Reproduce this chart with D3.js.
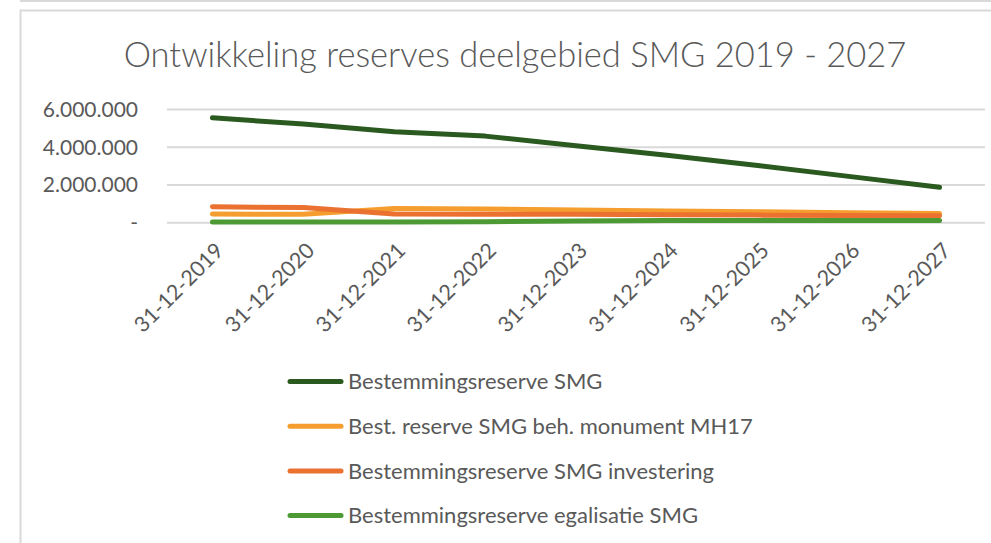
<!DOCTYPE html>
<html>
<head>
<meta charset="utf-8">
<script src="https://cdn.jsdelivr.net/npm/d3@7"></script>
<style>
body{margin:0;background:#fff;}
text{font-family:Lato,"Open Sans",sans-serif;fill:#595959;}
</style>
</head>
<body>
<svg id="chart"></svg>
<script>
var w=991;
var h=543;
var dates=["31-12-2019","31-12-2020","31-12-2021","31-12-2022","31-12-2023","31-12-2024","31-12-2025","31-12-2026","31-12-2027"];
var seriesNames=["Bestemmingsreserve SMG","Best. reserve SMG beh. monument MH17","Bestemmingsreserve SMG investering","Bestemmingsreserve egalisatie SMG"];
var smg=[5530000,5200000,4790000,4560000,4050000,3550000,3000000,2430000,1850000];
var mh17=[440000,420000,730000,700000,650000,600000,560000,510000,470000];
var investering=[820000,780000,440000,430000,420000,400000,380000,360000,350000];
var egalisatie=[20000,20000,20000,30000,70000,100000,100000,100000,100000];
var yTicks=[0,2000000,4000000,6000000];
var colors=["#2a5a1f","#f59d2e","#ea7130","#4d9a35"];

var margin={left:167,right:6,top:109,bottom:321};
var svg=d3.select("#chart").attr("width",w).attr("height",h);

// chart frame
svg.append("line").attr("x1",20).attr("x2",w).attr("y1",1).attr("y2",1)
   .attr("stroke","#d9d9d9").attr("stroke-width",2);
svg.append("path").attr("d","M20.5,"+h+"V10.5H"+w)
   .attr("fill","none").attr("stroke","#d9d9d9").attr("stroke-width",2);

svg.append("text")
   .attr("x",515).attr("y",67)
   .attr("text-anchor","middle")
   .style("font-size","34.5px")
   .style("font-weight","300")
   .text("Ontwikkeling reserves deelgebied SMG 2019 - 2027");

var xScale=d3.scalePoint()
             .domain(dates)
             .range([margin.left,w-margin.right])
             .padding(0.5);
var yScale=d3.scaleLinear()
             .domain([0,6000000])
             .range([222.3,108.9]);

var nl=d3.formatLocale({decimal:",",thousands:".",grouping:[3],currency:["€",""]});
var fmt=nl.format(",.0f");

var yAxis=d3.axisLeft(yScale)
            .tickValues(yTicks)
            .tickSize(-(w-margin.right-margin.left))
            .tickPadding(29)
            .tickFormat(function(d){return d==0?"-":fmt(d);});
var gy=svg.append("g")
   .attr("transform","translate("+margin.left+",0)")
   .call(yAxis);
gy.select(".domain").remove();
gy.selectAll(".tick line").attr("stroke","#d9d9d9").attr("stroke-width",2);
gy.selectAll(".tick text").style("font-size","21px").attr("fill","#595959").attr("dy","0.35em");

var xAxis=d3.axisBottom(xScale).tickSize(0).tickPadding(0);
var gx=svg.append("g")
   .attr("transform","translate(0,232)")
   .call(xAxis);
gx.select(".domain").remove();
gx.selectAll(".tick text")
  .style("font-size","21.5px")
  .attr("fill","#595959")
  .attr("text-anchor","end")
  .attr("dy","0")
  .attr("transform","translate(12,20) rotate(-45)");

var allSeries=[smg,mh17,investering,egalisatie];
var line=d3.line()
           .x(function(d,i){return xScale(dates[i]);})
           .y(function(d){return yScale(d);});
svg.append("g")
   .selectAll("path")
   .data(allSeries)
   .enter()
   .append("path")
   .attr("d",line)
   .attr("fill","none")
   .attr("stroke",function(d,i){return colors[i];})
   .attr("stroke-width",5)
   .attr("stroke-linecap","round")
   .attr("stroke-linejoin","round");

// legend
var legend=svg.append("g");
legend.selectAll("line")
   .data(seriesNames)
   .enter()
   .append("line")
   .attr("x1",290).attr("x2",341)
   .attr("y1",function(d,i){return 381.5+i*44.7;})
   .attr("y2",function(d,i){return 381.5+i*44.7;})
   .attr("stroke",function(d,i){return colors[i];})
   .attr("stroke-width",5)
   .attr("stroke-linecap","round");
legend.selectAll("text")
   .data(seriesNames)
   .enter()
   .append("text")
   .attr("x",348)
   .attr("y",function(d,i){return 381.5+i*44.7;})
   .attr("dy","0.35em")
   .style("font-size","22px")
   .text(function(d){return d;});
</script>
</body>
</html>
